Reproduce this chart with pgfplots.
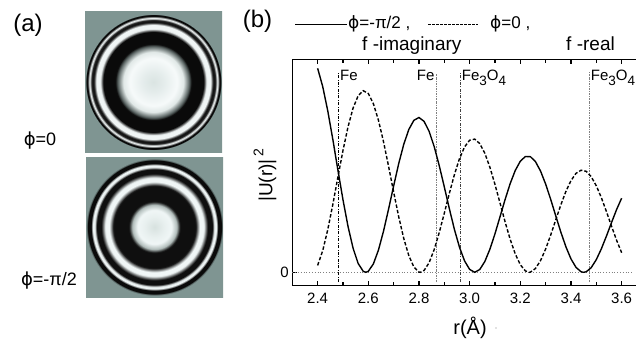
\documentclass[border=0pt]{standalone}
\usepackage{pgfplots}
\pgfplotsset{compat=1.18}
\usepackage{fontspec}
\setmainfont{Liberation Sans}
\newfontfamily\dv{DejaVu Sans}
\newcommand\fs[1]{\fontsize{#1}{#1}\selectfont}
\newcommand\phis{{\dv ϕ}}
\newcommand\lsub[1]{\raisebox{-5pt}{\fs{13.5}#1}}
\definecolor{bggray}{RGB}{127,149,146}

\pgfdeclareradialshading{ringA}{\pgfpoint{0bp}{0bp}}{%
rgb(0bp)=(0.855,0.894,0.886);
rgb(10bp)=(0.894,0.925,0.922);
rgb(23.5bp)=(0.965,0.98,0.98);
rgb(30bp)=(0.88,0.91,0.905);
rgb(35.5bp)=(0.35,0.39,0.385);
rgb(38bp)=(0.04,0.04,0.04);
rgb(50bp)=(0.04,0.04,0.04);
rgb(53bp)=(0.94,0.96,0.96);
rgb(57bp)=(0.94,0.96,0.96);
rgb(59.3bp)=(0.08,0.08,0.08);
rgb(61.6bp)=(0.08,0.08,0.08);
rgb(63.3bp)=(0.92,0.94,0.94);
rgb(64.3bp)=(0.92,0.94,0.94);
rgb(65.3bp)=(0.04,0.04,0.04);
rgb(67bp)=(0.04,0.04,0.04);
rgb(67.6bp)=(0.498,0.584,0.573);
rgb(100bp)=(0.498,0.584,0.573)}

\pgfdeclareradialshading{ringB}{\pgfpoint{0bp}{0bp}}{%
rgb(0bp)=(0.843,0.882,0.875);
rgb(10bp)=(0.91,0.94,0.937);
rgb(16.8bp)=(0.94,0.965,0.965);
rgb(22bp)=(0.7,0.745,0.737);
rgb(25.5bp)=(0.06,0.06,0.06);
rgb(41bp)=(0.06,0.06,0.06);
rgb(45bp)=(0.94,0.965,0.965);
rgb(49bp)=(0.94,0.965,0.965);
rgb(53bp)=(0.06,0.06,0.06);
rgb(57.6bp)=(0.06,0.06,0.06);
rgb(59.6bp)=(0.93,0.955,0.955);
rgb(61.6bp)=(0.93,0.955,0.955);
rgb(63.3bp)=(0.04,0.04,0.04);
rgb(67bp)=(0.04,0.04,0.04);
rgb(67.6bp)=(0.498,0.584,0.573);
rgb(100bp)=(0.498,0.584,0.573)}

\begin{document}
\begin{tikzpicture}[x=1pt,y=1pt]
\path[use as bounding box] (0,0) rectangle (636,338);

% ---- panel (a)
\node[font=\fs{24}] at (28,313) {(a)};
\begin{scope}
\clip (85,186) rectangle (222,326);
\fill[bggray] (85,186) rectangle (222,326);
\node[inner sep=0pt] at (153.4,256) {\pgfuseshading{ringA}};
\end{scope}
\begin{scope}
\clip (86,41) rectangle (223,181);
\fill[bggray] (86,41) rectangle (223,181);
\node[inner sep=0pt] at (154.5,111) {\pgfuseshading{ringB}};
\end{scope}
\node[font=\fs{18}] at (40,197) {\phis=0};
\node[font=\fs{18}] at (49,57) {\phis=-π/2};

% ---- panel (b) title and legend
\node[font=\fs{24}] at (257.5,316.5) {(b)};
\draw[line width=1.3pt] (295,313.7) -- (347,313.7);
\node[font=\fs{17},anchor=base west,inner sep=1pt] at (347,309.5) {\phis=-π/2 ,};
\node[font=\fs{19},anchor=base west,inner sep=0pt] at (362,287.5) {f -imaginary};
\draw[line width=1.1pt, dash pattern=on 2.5pt off 1.5pt] (428,313.7) -- (478,313.7);
\node[font=\fs{17},anchor=base west,inner sep=0pt] at (490,309.5) {\phis=0 ,};
\node[font=\fs{19},anchor=base east,inner sep=0pt] at (615,287.5) {f -real};

% axis labels
\node[font=\fs{20}] at (470,10) {r(Å)};
\fill[gray] (496,10) circle (0.6);
\node[font=\fs{19},rotate=90] at (265,163) {|U(r)|\hspace{3pt}\raisebox{9pt}{\fs{14}2}};

\begin{axis}[
  at={(292.3pt,52.5pt)}, anchor=south west,
  scale only axis, width=349.6pt, height=226.2pt,
  xmin=2.3, xmax=3.68, ymin=-13.2, ymax=213,
  xtick={2.4,2.6,2.8,3.0,3.2,3.4,3.6},
  xticklabels={2.4,2.6,2.8,3.0,3.2,3.4,3.6},
  minor xtick={2.5,2.7,2.9,3.1,3.3,3.5},
  ytick={0}, yticklabels={0}, ytick pos=left,
  xtick pos=both, xticklabel pos=lower,
  tick align=inside,
  major tick length=5pt, minor tick length=3.5pt,
  axis line style={line width=1.3pt},
  every tick/.style={black, line width=1.1pt},
  ticklabel style={font=\fs{15}},
  /pgf/number format/assume math mode=true,
  xticklabel shift=4pt,
  clip=false,
]
% zero line
\addplot[gray, dotted, line width=0.8pt] coordinates {(2.3,0) (3.645,0)};
% reference lines
\addplot[black, line width=0.6pt, dash pattern=on 3pt off 1.5pt on 0.8pt off 1.5pt] coordinates {(2.482,-9.7) (2.482,201)};
\addplot[gray, line width=0.7pt, dash pattern=on 2pt off 1pt on 0.8pt off 1pt] coordinates {(2.868,-9.7) (2.868,199)};
\addplot[black!75, line width=0.6pt, dash pattern=on 3pt off 1.5pt on 0.8pt off 1.5pt] coordinates {(2.963,-9.7) (2.963,199)};
\addplot[gray, line width=0.7pt, dash pattern=on 2pt off 1pt on 0.8pt off 1pt] coordinates {(3.472,-9.7) (3.472,200)};
\node[font=\fs{15},anchor=base west,inner sep=1.5pt] at (axis cs:2.482,191.5) {Fe};
\node[font=\fs{15},anchor=base east,inner sep=1.5pt] at (axis cs:2.868,191.5) {Fe};
\node[font=\fs{15},anchor=base west,inner sep=1.5pt] at (axis cs:2.963,191.5) {Fe\lsub{3}O\lsub{4}};
\node[font=\fs{15},anchor=base west,inner sep=1.5pt] at (axis cs:3.472,191.5) {Fe\lsub{3}O\lsub{4}};

% phi = -pi/2, f imaginary (solid)
\addplot[black, line width=1.4pt] coordinates {
(2.40,204.0) (2.42,185.8) (2.44,161.4) (2.46,132.8) (2.48,102.3) (2.50,72.6)
(2.52,45.8) (2.54,24.0) (2.56,8.8) (2.58,1.0) (2.59,0.0) (2.60,1.0)
(2.62,8.4) (2.64,22.2) (2.66,41.1) (2.68,63.2) (2.70,86.3) (2.72,108.7)
(2.74,128.0) (2.76,142.9) (2.78,152.0) (2.80,154.8) (2.82,151.0) (2.84,141.0)
(2.86,125.8) (2.88,106.7) (2.90,85.4) (2.92,63.5) (2.94,42.8) (2.96,25.0)
(2.98,11.4) (3.00,2.9) (3.02,0.0) (3.04,2.8) (3.06,10.8) (3.08,23.1)
(3.10,38.5) (3.12,55.6) (3.14,72.8) (3.16,88.7) (3.18,101.8) (3.20,111.1)
(3.22,115.8) (3.24,115.6) (3.26,110.6) (3.28,101.2) (3.30,88.2) (3.32,72.9)
(3.34,56.4) (3.36,40.2) (3.38,25.5) (3.40,13.4) (3.42,4.9) (3.44,0.5)
(3.45,0.0) (3.46,0.5) (3.48,4.7) (3.50,12.7) (3.52,23.5) (3.54,36.2)
(3.56,49.7) (3.58,62.7) (3.60,74.1)
};
% phi = 0, f real (dashed)
\addplot[black, line width=1.4pt, dash pattern=on 3.5pt off 2pt] coordinates {
(2.40,6.9) (2.42,21.6) (2.44,42.7) (2.46,67.9) (2.48,95.2) (2.50,121.8)
(2.52,145.5) (2.54,164.3) (2.56,176.6) (2.58,181.6) (2.60,178.8) (2.62,168.6)
(2.64,152.1) (2.66,130.6) (2.68,106.0) (2.70,80.3) (2.72,55.6) (2.74,33.8)
(2.76,16.6) (2.78,5.2) (2.80,0.2) (2.805,0.0) (2.82,1.8) (2.84,9.6)
(2.86,22.7) (2.88,39.8) (2.90,59.1) (2.92,79.0) (2.94,97.8) (2.96,113.7)
(2.98,125.4) (3.00,132.1) (3.02,133.2) (3.04,128.7) (3.06,119.0) (3.08,105.0)
(3.10,87.9) (3.12,69.2) (3.14,50.4) (3.16,33.0) (3.18,18.4) (3.20,7.6)
(3.22,1.4) (3.235,0.0) (3.24,0.2) (3.26,3.8) (3.28,11.8) (3.30,23.3)
(3.32,37.3) (3.34,52.5) (3.36,67.4) (3.38,80.9) (3.40,91.7) (3.42,99.0)
(3.44,102.1) (3.46,101.0) (3.48,95.6) (3.50,86.5) (3.52,74.6) (3.54,60.7)
(3.56,46.2) (3.58,32.1) (3.60,19.6)
};
\end{axis}
\end{tikzpicture}
\end{document}
